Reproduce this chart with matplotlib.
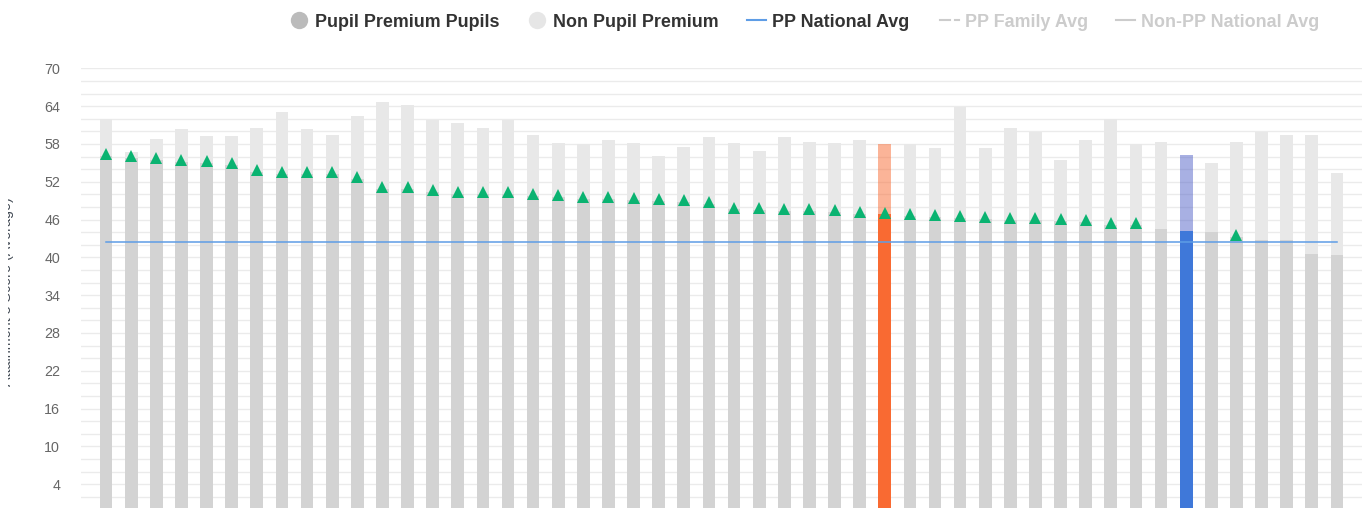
import numpy as np
import matplotlib
matplotlib.use("Agg")
import matplotlib.pyplot as plt
from matplotlib.lines import Line2D
from matplotlib.transforms import Bbox

# ---------------- data ----------------
non_pp = [61.9, 56.7, 58.8, 60.4, 59.3, 59.3, 60.5, 63.1, 60.4, 59.4,
          62.4, 64.7, 64.2, 61.8, 61.3, 60.5, 61.8, 59.4, 58.1, 58.0,
          58.6, 58.1, 56.1, 57.5, 59.1, 58.1, 56.9, 59.1, 58.3, 58.1,
          58.6, 58.0, 58.0, 57.4, 63.9, 57.4, 60.5, 59.9, 55.4, 58.6,
          61.9, 58.0, 58.3, 56.2, 55.0, 58.3, 59.9, 59.4, 59.4, 53.4]
pp = [56.1, 55.8, 55.5, 55.2, 55.0, 54.6, 53.6, 53.3, 53.2, 53.2,
      52.4, 50.9, 50.9, 50.4, 50.1, 50.1, 50.0, 49.7, 49.6, 49.3,
      49.2, 49.1, 49.0, 48.8, 48.4, 47.6, 47.5, 47.4, 47.4, 47.2,
      46.9, 46.9, 46.5, 46.4, 46.3, 46.1, 46.0, 45.9, 45.8, 45.6,
      45.1, 45.1, 44.5, 44.2, 44.0, 43.3, 42.7, 42.7, 40.5, 40.4]
triangles = [56.4, 56.1, 55.8, 55.5, 55.3, 54.9, 53.9, 53.6, 53.5, 53.5,
             52.7, 51.2, 51.2, 50.7, 50.4, 50.4, 50.3, 50.0, 49.9, 49.6,
             49.5, 49.4, 49.3, 49.1, 48.7, 47.9, 47.8, 47.7, 47.7, 47.5,
             47.2, 47.0, 46.8, 46.7, 46.6, 46.4, 46.3, 46.2, 46.1, 45.9,
             45.4, 45.4, None, None, None, 43.6, None, None, None, None]
pp_national_avg = 42.5
highlight_orange = 31
highlight_blue = 43
ytick_labels = [4, 10, 16, 22, 28, 34, 40, 46, 52, 58, 64, 70]
legend_labels = ["Pupil Premium Pupils", "Non Pupil Premium", "PP National Avg",
                 "PP Family Avg", "Non-PP National Avg"]
y_title = "Attainment 8 Score (Average)"

# ---------------- figure ----------------
W, H = 1362, 508
fig = plt.figure(figsize=(W / 100, H / 100), dpi=100)
FONT = "Liberation Sans"

def fx(px):
    return px / W

def fy(py):
    return 1 - py / H

ax_left, ax_right = 81, 1362
ax_top, ax_bottom = 68.3, 509.3
ax = fig.add_axes([fx(ax_left), fy(ax_bottom), fx(ax_right - ax_left), (ax_bottom - ax_top) / H])

n = len(pp)
x = np.arange(n)
bw = 0.505

np_colors = ["#e8e8e8"] * n
np_alpha = [1.0] * n
pp_colors = ["#d3d3d3"] * n
np_colors[highlight_orange] = "#f96a32"
np_alpha[highlight_orange] = 0.5
pp_colors[highlight_orange] = "#f96a32"
np_colors[highlight_blue] = "#5262c8"
np_alpha[highlight_blue] = 0.5
pp_colors[highlight_blue] = "#3f78d9"

for i in range(n):
    ax.bar(x[i], non_pp[i], width=bw, color=np_colors[i], alpha=np_alpha[i], zorder=2, linewidth=0)
ax.bar(x, pp, width=bw, color=pp_colors, zorder=3, linewidth=0)

ax.plot([x[0], x[-1]], [pp_national_avg, pp_national_avg], color="#5e9de6", lw=1.1, zorder=4)

tri = np.array([np.nan if t is None else t for t in triangles], dtype=float)
ax.plot(x, tri, linestyle="none", marker="^", markersize=8.0, color="#0ab371",
        markeredgewidth=0, zorder=5)

ax.set_xlim(-1, 50)
ax.set_ylim(0, 70)
ax.set_yticks(ytick_labels)
ax.set_yticklabels([str(v) for v in ytick_labels], fontsize=10.3, color="#666666", family=FONT)
ax.set_yticks(np.arange(0, 71, 2), minor=True)
ax.yaxis.grid(True, which="both", color="#ebebeb", lw=1.0, zorder=0)
ax.set_axisbelow(True)
ax.tick_params(axis="y", which="both", length=0, pad=15)
ax.set_xticks([])
for s in ax.spines.values():
    s.set_visible(False)

# y-axis title (mostly clipped at the left edge, as in the reference)
yt = fig.text(fx(14.5), fy(292), y_title, rotation=90, ha="right", va="center",
              fontsize=10.3, color="#444c56", family=FONT)
yt.set_clip_box(Bbox([[8.3, 0], [W, H]]))
yt.set_clip_on(True)

# ---------------- legend ----------------
ly = 20
base = 27
lfs = 12.9
fig.add_artist(Line2D([fx(299)], [fy(ly)], marker="o", ms=12.5, color="#bbbbbb",
                      markeredgewidth=0, transform=fig.transFigure))
fig.text(fx(315), fy(base), legend_labels[0], fontsize=lfs, fontweight="bold",
         color="#333333", family=FONT, va="baseline")
fig.add_artist(Line2D([fx(537)], [fy(ly)], marker="o", ms=12.5, color="#e6e6e6",
                      markeredgewidth=0, transform=fig.transFigure))
fig.text(fx(553), fy(base), legend_labels[1], fontsize=lfs, fontweight="bold",
         color="#333333", family=FONT, va="baseline")
fig.add_artist(Line2D([fx(747), fx(766)], [fy(ly), fy(ly)], color="#5e9de6", lw=1.5,
                      transform=fig.transFigure))
fig.text(fx(772), fy(base), legend_labels[2], fontsize=lfs, fontweight="bold",
         color="#333333", family=FONT, va="baseline")
fig.add_artist(Line2D([fx(940), fx(950)], [fy(ly), fy(ly)], color="#cccccc", lw=1.5,
                      transform=fig.transFigure))
fig.add_artist(Line2D([fx(955), fx(959)], [fy(ly), fy(ly)], color="#cccccc", lw=1.5,
                      transform=fig.transFigure))
fig.text(fx(965), fy(base), legend_labels[3], fontsize=lfs, fontweight="bold",
         color="#cccccc", family=FONT, va="baseline")
fig.add_artist(Line2D([fx(1116), fx(1135)], [fy(ly), fy(ly)], color="#cccccc", lw=1.5,
                      transform=fig.transFigure))
fig.text(fx(1141), fy(base), legend_labels[4], fontsize=lfs, fontweight="bold",
         color="#cccccc", family=FONT, va="baseline")

fig.savefig("out.png", dpi=100)
